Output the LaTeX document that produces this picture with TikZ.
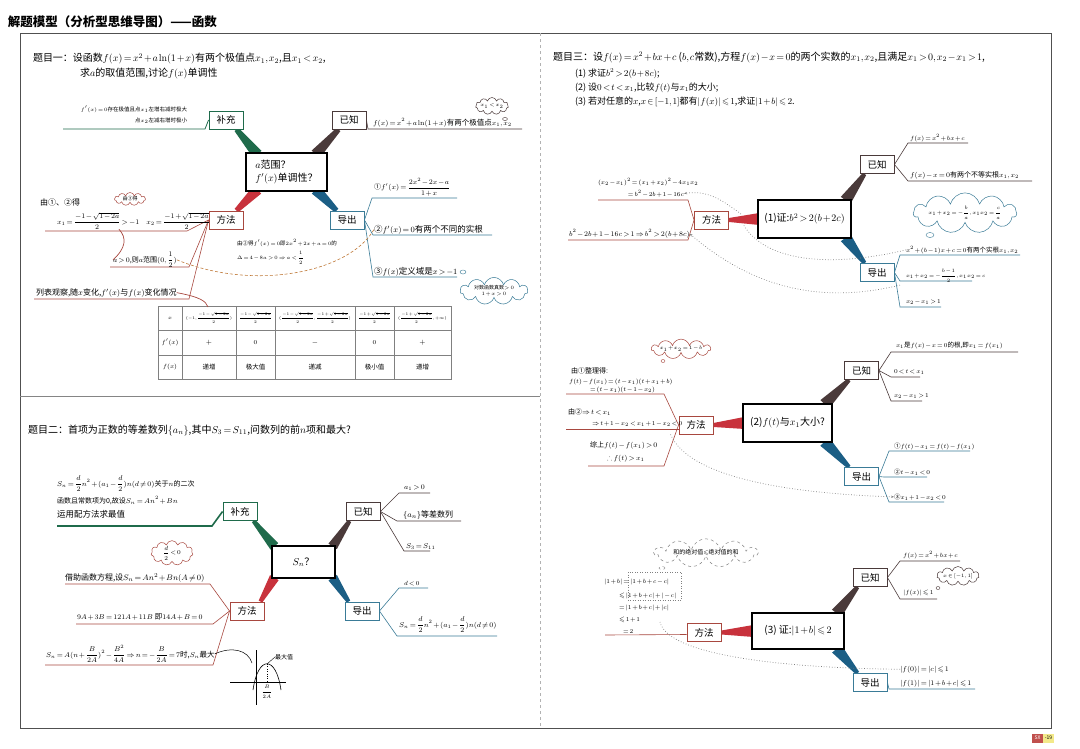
\documentclass[tikz,border=0pt]{standalone}
\usepackage{amsmath,amssymb}
\usepackage[no-math]{fontspec}
\setmainfont{Noto Sans CJK SC}
\usetikzlibrary{calc,shapes.symbols,arrows.meta}
\definecolor{grn}{HTML}{1F6B4B}
\definecolor{dk}{HTML}{4A3A3A}
\definecolor{rdw}{HTML}{C8323C}
\definecolor{rdl}{HTML}{A8483F}
\definecolor{blw}{HTML}{1B5E85}
\definecolor{bll}{HTML}{3A7B97}
\definecolor{frm}{HTML}{505050}
\definecolor{orn}{HTML}{C07A3A}
\definecolor{pnr}{HTML}{C0504D}
\definecolor{pny}{HTML}{F3E98A}
\pgfdeclarelayer{back}
\pgfdeclarelayer{bg}
\pgfsetlayers{back,bg,main}
\newcommand\mytaper[5]{%
  \fill[#1] let \p1=(#2), \p2=(#3), \n1={atan2(\y2-\y1,\x2-\x1)} in
    ($(\p1)+(\n1+90:#4)$) -- ($(\p2)+(\n1+90:#5)$) -- ($(\p2)+(\n1-90:#5)$) -- ($(\p1)+(\n1-90:#4)$) -- cycle;}
\newcommand\tcell[1]{\scalebox{0.8}{#1}}
\tikzset{
  fz/.style={font=\fontsize{#1}{#1}\selectfont},
  tx/.style={inner sep=0pt, outer sep=0pt},
  bx/.style={draw, line width=0.9pt, fill=white, minimum width=34pt, minimum height=18pt, inner sep=1pt, fz=9.5},
  bxg/.style={bx, draw=grn},
  bxk/.style={bx, draw=dk},
  bxr/.style={bx, draw=rdl},
  bxb/.style={bx, draw=bll},
  cbox/.style={draw=black, line width=1.3pt, fill=white, inner sep=2pt, fz=10},
  lg/.style={grn, line width=0.8pt},
  lk/.style={dk, line width=0.6pt},
  lr/.style={rdl, line width=0.6pt},
  lb/.style={bll, line width=0.6pt},
  dots/.style={gray, dotted, line width=0.7pt},
  cld/.style={cloud, cloud puffs=11, cloud ignores aspect, draw, line width=0.5pt, inner sep=0pt, fill=white},
  tl/.style={gray, line width=0.5pt},
}
\begin{document}
\thickmuskip=2.5mu plus 1mu
\medmuskip=1.5mu plus 1mu
\thinmuskip=1.5mu
\begin{tikzpicture}[x=1pt,y=-1pt]
\begin{pgfonlayer}{back}
\fill[white] (0,0) rectangle (1080,748);
\end{pgfonlayer}
\useasboundingbox (0,0) rectangle (1080,748);

% frame
\draw[frm, line width=0.9pt] (20,33) -- (1051,33);
\draw[frm, line width=0.8pt] (20,33) -- (20,728) -- (1051,728) -- (1051,33);
\draw[gray!60, dashed, line width=0.5pt] (540,33) -- (540,728);
\draw[frm!70, line width=0.6pt] (20,396) -- (540,396);

\node[tx, anchor=west, font=\fontsize{12.5}{13}\selectfont\bfseries] (ttl) at (8,22) {解题模型（分析型思维导图）——函数};

% ================= Q1 =================
\node[tx, anchor=west, fz=10] (q1a) at (33,59) {题目一：设函数$f(x)=x^2+a\ln(1+x)$有两个极值点$x_1,x_2$,且$x_1<x_2$,};
\node[tx, anchor=west, fz=10] (q1b) at (80,74) {求$a$的取值范围,讨论$f(x)$单调性};

\node[cbox, minimum width=81pt, minimum height=38pt, align=left] (c1) at (286.5,172) {$a$范围？\\[3pt]$f'(x)$单调性？};
\node[bxg] (b1) at (226,120) {补充};
\node[bxk] (k1) at (349,120) {已知};
\node[bxr] (m1) at (226,220) {方法};
\node[bxb] (d1) at (347,220) {导出};

\node[tx, anchor=base east, fz=5.5] (s1a) at (187,111) {$f'(x)=0$存在极值且点$x_1$左增右减时极大};
\node[tx, anchor=base east, fz=5.5] (s1b) at (187,122) {点$x_2$左减右增时极小};
\draw[lg] (b1.west) -- (205,129) -- (63,129);

\node[tx, anchor=base west, fz=7.5] (k1t) at (373,125) {$f(x)=x^2+a\ln(1+x)$有两个极值点$x_1,x_2$};
\draw[lk] (k1.east) -- (368,129) -- (522,129);
\node[cld, draw=dk, minimum width=32pt, minimum height=17pt, fz=4.5] (k1c) at (492,106) {$x_1<x_2$};
\draw[dk, line width=0.4pt] (505,119) ellipse (2.5pt and 1.5pt);

\draw[lb] (d1.east) -- (372,198) -- (457,198);
\draw[lb] (d1.east) -- (373,235) -- (492,235);
\draw[lb] (d1.east) -- (373,277) -- (457,277);
\node[tx, anchor=south west, fz=7] (d1a) at (374,196) {①$f'(x)=\dfrac{2x^2-2x-a}{1+x}$};
\node[tx, anchor=base west, fz=8.5] (d1b) at (374,232) {②$f'(x)=0$有两个不同的实根};
\node[tx, anchor=base west, fz=8.5] (d1c) at (374,274) {③$f(x)$定义域是$x>-1$};
\node[cld, draw=bll, minimum width=68pt, minimum height=22pt, fz=5, align=center] (d1cl) at (494,291) {对数函数真数$>0$\\[1pt]$1+x>0$};
\draw[bll, line width=0.4pt] (463,272) ellipse (3pt and 2pt);

\draw[lr] (m1.west) -- (187,231) -- (45,231);
\draw[lr] (m1.west) -- (189,267) -- (110,267);
\draw[lr] (m1.west) -- (189,299) -- (34,299);
\node[tx, anchor=base west, fz=8] (m1a) at (40,205) {由①、②得};
\node[tx, anchor=base west, fz=7] (m1b) at (57,224) {$x_1=\dfrac{-1-\sqrt{1-2a}}{2}>-1\quad x_2=\dfrac{-1+\sqrt{1-2a}}{2}$};
\node[cld, draw=rdl, minimum width=31pt, minimum height=13pt, fz=5] (m1cl) at (130,199) {由③得};
\node[tx, anchor=base west, fz=7] (m1c) at (113,262) {$a>0$,则$a$范围$(0,\dfrac{1}{2})$};
\draw[rdl, line width=0.7pt] ($(m1b.south west)+(62,0)$) .. controls (127,238) and (126,248) .. (m1c.west);
\node[tx, anchor=base west, fz=8] (m1d) at (36,295) {列表观察,随$x$变化,$f'(x)$与$f(x)$变化情况};
\draw[orn, densely dashed, line width=0.6pt] (m1c.east) .. controls (255,292) and (350,272) .. (d1b.west);
\node[tx, anchor=base west, fz=5.5] (n1a) at (237,245) {由②得$f'(x)=0$即$2x^2+2x+a=0$的};
\node[tx, anchor=base west, fz=5.5] (n1b) at (237,259) {$\Delta=4-8a>0\Rightarrow a<\dfrac{1}{2}$};

% table
\draw[tl] (158,306) rectangle (451,379);
\draw[tl] (158,330) -- (451,330);
\draw[tl] (158,355) -- (451,355);
\foreach \xx in {182,236,275,355,394} \draw[tl] (\xx,306) -- (\xx,379);
\node[tx, fz=5.5] (t11) at (170,318) {$x$};
\node[tx, fz=5] (t12) at (209,318) {\tcell{$(-1,\dfrac{-1-\sqrt{1-2a}}{2})$}};
\node[tx, fz=5] (t13) at (255.5,318) {\tcell{$\dfrac{-1-\sqrt{1-2a}}{2}$}};
\node[tx, fz=5] (t14) at (315,318) {\tcell{$(\dfrac{-1-\sqrt{1-2a}}{2},\dfrac{-1+\sqrt{1-2a}}{2})$}};
\node[tx, fz=5] (t15) at (374.5,318) {\tcell{$\dfrac{-1+\sqrt{1-2a}}{2}$}};
\node[tx, fz=5] (t16) at (422.5,318) {\tcell{$(\dfrac{-1+\sqrt{1-2a}}{2},+\infty)$}};
\node[tx, fz=6] (t21) at (170,342.5) {$f'(x)$};
\node[tx, fz=7] (t22) at (209,342.5) {$+$};
\node[tx, fz=6] (t23) at (255.5,342.5) {$0$};
\node[tx, fz=7] (t24) at (315,342.5) {$-$};
\node[tx, fz=6] (t25) at (374.5,342.5) {$0$};
\node[tx, fz=7] (t26) at (422.5,342.5) {$+$};
\node[tx, fz=6] (t31) at (170,367) {$f(x)$};
\node[tx, fz=6.5] (t32) at (209,367) {递增};
\node[tx, fz=6.5] (t33) at (255.5,367) {极大值};
\node[tx, fz=6.5] (t34) at (315,367) {递减};
\node[tx, fz=6.5] (t35) at (374.5,367) {极小值};
\node[tx, fz=6.5] (t36) at (422.5,367) {递增};
\draw[rdl, line width=0.7pt] (m1d.east) .. controls (200,297) and (206,301) .. (208,307);

% ================= Q2 =================
\node[tx, anchor=base west, fz=10] (q2) at (28,433) {题目二：首项为正数的等差数列$\{a_n\}$,其中$S_3=S_{11}$,问数列的前$n$项和最大?};
\node[cbox, minimum width=63pt, minimum height=32pt] (c2) at (303.5,562) {$S_n$？};
\node[bxg] (b2) at (240,511.5) {补充};
\node[bxk] (k2) at (363,511.5) {已知};
\node[bxr] (m2) at (247,611) {方法};
\node[bxb] (d2) at (362,611) {导出};

\node[tx, anchor=base west, fz=7] (s2a) at (57,486) {$S_n=\dfrac{d}{2}n^2+(a_1-\dfrac{d}{2})n(d\neq0)$关于$n$的二次};
\node[tx, anchor=base west, fz=7] (s2b) at (57,503) {函数且常数项为0,故设$S_n=An^2+Bn$};
\node[tx, anchor=base west, fz=8.5] (s2c) at (57,517) {运用配方法求最值};
\draw[grn, line width=1.6pt] (b2.west) -- (212,526) -- (57,526);

\draw[lk] (k2.east) -- (399,493) -- (430,493);
\draw[lk] (k2.east) -- (397,521) -- (461,521);
\draw[lk] (k2.east) -- (404,551) -- (430,551);
\node[tx, anchor=base west, fz=7] (k2a) at (404,489) {$a_1>0$};
\node[tx, anchor=base west, fz=8] (k2b) at (403,517) {$\{a_n\}$等差数列};
\node[tx, anchor=base west, fz=7] (k2c) at (406,548) {$S_3=S_{11}$};

\draw[lb] (d2.east) -- (399,588) -- (428,588);
\draw[lb] (d2.east) -- (397,636) -- (497,636);
\node[tx, anchor=base west, fz=6.5] (d2a) at (404,585) {$d<0$};
\node[tx, anchor=base west, fz=7] (d2b) at (399,627) {$S_n=\dfrac{d}{2}n^2+(a_1-\dfrac{d}{2})n(d\neq0)$};

\draw[lr] (m2.west) -- (210,584) -- (65,584);
\draw[lr] (m2.west) -- (213,624) -- (76,624);
\draw[lr] (m2.west) -- (213,665) -- (45,665);
\node[tx, anchor=base west, fz=8] (m2a) at (65,580) {借助函数方程,设$S_n=An^2+Bn(A\neq0)$};
\node[tx, anchor=base west, fz=7.5] (m2b) at (77,619) {$9A+3B=121A+11B$\ 即$14A+B=0$};
\node[tx, anchor=base west, fz=7.5] (m2c) at (46,657) {$S_n=A(n+\dfrac{B}{2A})^2-\dfrac{B^2}{4A}\Rightarrow n=-\dfrac{B}{2A}=7$时,$S_n$最大};
\node[cld, draw=rdl, minimum width=42pt, minimum height=24pt, fz=6] (m2cl) at (172,553) {$\dfrac{d}{2}<0$};

\coordinate (gpk) at (267,664);
\draw[black, line width=0.5pt] (230,682) -- (286,682);
\draw[black, line width=0.5pt] (256,650) -- (256,705);
\draw[black, line width=0.6pt] (253,690) .. controls (258,655) and (276,655) .. (281,690);
\draw[black, dotted, line width=0.4pt] (gpk) -- (267,682);
\node[tx, anchor=west, fz=6] (gmx) at (275,657) {最大值};
\draw[black, line width=0.4pt] (gpk) -- (gmx.west);
\node[tx, fz=5] (gb) at (267,692) {$\dfrac{B}{2A}$};
\draw[black, line width=0.5pt] (m2c.east) .. controls (232,646) and (248,650) .. (252,663);

% ================= Q3 =================
\node[tx, anchor=base west, fz=10] (q3) at (553,60) {题目三：设$f(x)=x^2+bx+c$ ($b,c$常数),方程$f(x)-x=0$的两个实数的$x_1,x_2$,且满足$x_1>0,x_2-x_1>1$,};
\node[tx, anchor=base west, fz=9] (q3a) at (575,76) {(1) 求证$b^2>2(b+8c)$;};
\node[tx, anchor=base west, fz=9] (q3b) at (575,90) {(2) 设$0<t<x_1$,比较$f(t)$与$x_1$的大小;};
\node[tx, anchor=base west, fz=9] (q3c) at (575,104) {(3) 若对任意的$x$,$x\in[-1,1]$都有$|f(x)|\leqslant1$,求证$|1+b|\leqslant2$.};

% part 1
\node[cbox, minimum width=93pt, minimum height=38pt] (c3) at (804.5,219) {(1)证:$b^2>2(b+2c)$};
\node[bxk] (k3) at (877,164.5) {已知};
\node[bxb] (d3) at (877,272.5) {导出};
\node[bxr] (m3) at (711.5,220) {方法};

\draw[lk] (k3.east) -- (908,143) -- (968,143);
\draw[lk] (k3.east) -- (908,181) -- (1032,181);
\node[tx, anchor=base west, fz=6.5] (k3a) at (910,140) {$f(x)=x^2+bx+c$};
\node[tx, anchor=base west, fz=7] (k3b) at (910,177) {$f(x)-x=0$有两个不等实根$x_1,x_2$};

\draw[lb] (d3.east) -- (900,255) -- (1020,255);
\draw[lb] (d3.east) -- (900,281) -- (972,281);
\draw[lb] (d3.east) -- (900,307) -- (941,307);
\node[tx, anchor=base west, fz=6.5] (d3a) at (906,252) {$x^2+(b-1)x+c=0$有两个实根$x_1,x_2$};
\node[tx, anchor=base west, fz=5.5] (d3b) at (906,277) {$x_1+x_2=-\dfrac{b-1}{2},x_1x_2=c$};
\node[tx, anchor=base west, fz=6.5] (d3c) at (906,303) {$x_2-x_1>1$};
\node[cld, draw=bll, minimum width=90pt, minimum height=36pt, fz=5.5] (d3cl) at (965,213) {$x_1+x_2=-\dfrac{b}{a},x_1x_2=\dfrac{c}{a}$};
\draw[bll, line width=0.4pt] (930,235) ellipse (4pt and 2.5pt);

\draw[lr] (m3.west) -- (688,200) -- (598,200);
\draw[lr] (m3.west) -- (688,240) -- (568,240);
\node[tx, anchor=base west, fz=6.5] (m3a) at (598,184) {$(x_2-x_1)^2=(x_1+x_2)^2-4x_1x_2$};
\node[tx, anchor=base east, fz=6.5] (m3b) at (684,196) {$=b^2-2b+1-16c$};
\node[tx, anchor=base west, fz=7] (m3c) at (569,236) {$b^2-2b+1-16c>1\Rightarrow b^2>2(b+8c)$};
\draw[dots, -{Stealth[length=3pt]}] ($(m3.east)+(12,-6)$) .. controls (722,200) and (708,190) .. (m3b.east);
\draw[dots] (d3a.west) .. controls (830,268) and (765,262) .. ($(m3.east)+(14,4)$);
\draw[dots, -{Stealth[length=3pt]}] ($(d3b.south west)+(-6,3)$) .. controls (830,302) and (760,294) .. (m3c.east);

% part 2
\node[cbox, minimum width=89pt, minimum height=38pt] (c4) at (787.5,423) {(2)$f(t)$与$x_1$大小?};
\node[bxk] (k4) at (861.5,370.5) {已知};
\node[bxb] (d4) at (861.5,476.5) {导出};
\node[bxr] (m4) at (696,425) {方法};

\draw[lk] (k4.east) -- (891,352) -- (1018,352);
\draw[lk] (k4.east) -- (891,377) -- (920,377);
\draw[lk] (k4.east) -- (891,401) -- (922,401);
\node[tx, anchor=base west, fz=6.5] (k4a) at (896,347) {$x_1$是$f(x)-x=0$的根,即$x_1=f(x_1)$};
\node[tx, anchor=base west, fz=6] (k4b) at (894,373) {$0<t<x_1$};
\node[tx, anchor=base west, fz=6] (k4c) at (894,397) {$x_2-x_1>1$};

\draw[lb] (d4.east) -- (889,451) -- (970,451);
\draw[lb] (d4.east) -- (884,477) -- (927,477);
\draw[lb] (d4.east) -- (889,502) -- (944,502);
\node[tx, anchor=base west, fz=6.5] (d4a) at (894,448) {①$f(t)-x_1=f(t)-f(x_1)$};
\node[tx, anchor=base west, fz=6.5] (d4b) at (894,474) {②$t-x_1<0$};
\node[tx, anchor=base west, fz=6.5] (d4c) at (894,499) {③$x_1+1-x_2<0$};

\node[cld, draw=rdl, minimum width=44pt, minimum height=17pt, fz=4.5] (m4cl) at (681,349) {$x_1+x_2=1-b$};
\draw[rdl, line width=0.4pt] (663,361) ellipse (2pt and 1.5pt);
\draw[lr] (m4.west) -- (664,394) -- (566,394);
\draw[lr] ($(m4.west)+(0,4)$) -- (566,429);
\draw[lr] (m4.west) -- (664,466) -- (588,466);
\node[tx, anchor=base west, fz=7] (m4a) at (571,373) {由①整理得:};
\node[tx, anchor=base west, fz=6] (m4b) at (569,383) {$f(t)-f(x_1)=(t-x_1)(t+x_1+b)$};
\node[tx, anchor=base east, fz=6] (m4c) at (655,391.5) {$=(t-x_1)(t-1-x_2)$};
\node[tx, anchor=base west, fz=7] (m4d) at (568,414) {由②$\Rightarrow t<x_1$};
\node[tx, anchor=base west, fz=6] (m4e) at (592,425) {$\Rightarrow t+1-x_2<x_1+1-x_2<0$};
\node[tx, anchor=base west, fz=7] (m4f) at (590,447) {综上$f(t)-f(x_1)>0$};
\node[tx, anchor=base west, fz=7] (m4g) at (607,460) {$\therefore f(t)>x_1$};
\draw[dots, -{Stealth[length=3pt]}] ($(m4.south west)+(-8,0)$) .. controls (690,480) and (800,494) .. (d4c.west);

% part 3
\node[cbox, minimum width=92pt, minimum height=36pt] (c5) at (798,631) {(3) 证:$|1+b|\leqslant2$};
\node[bxk] (k5) at (870,577.5) {已知};
\node[bxb] (d5) at (870,682.5) {导出};
\node[bxr] (m5) at (704,632.5) {方法};

\draw[lk] (k5.east) -- (900,561) -- (960,561);
\draw[lk] (k5.east) -- (900,599) -- (937,599);
\node[tx, anchor=base west, fz=6.5] (k5a) at (903,557) {$f(x)=x^2+bx+c$};
\node[tx, anchor=base west, fz=6.5] (k5b) at (903,594) {$|f(x)|\leqslant1$};
\node[cld, draw=dk, minimum width=40pt, minimum height=19pt, fz=5] (k5cl) at (958,576) {$x\in[-1,1]$};
\draw[dk, line width=0.4pt] (938,588) ellipse (2pt and 1.5pt);

\draw[lb] (d5.east) -- (889,689) -- (975,689);
\node[tx, anchor=base west, fz=7] (d5a) at (900,671) {$|f(0)|=|c|\leqslant1$};
\node[tx, anchor=base west, fz=7] (d5b) at (900,685) {$|f(1)|=|1+b+c|\leqslant1$};

\draw[lr] ($(m5.west)+(0,2)$) -- (605,635);
\node[tx, anchor=base west, fz=6.5] (m5a) at (604,583) {$|1+b|=|1+b+c-c|$};
\node[tx, anchor=base west, fz=6.5] (m5b) at (619,597) {$\leqslant|1+b+c|+|-c|$};
\node[tx, anchor=base west, fz=6.5] (m5c) at (619,609) {$=|1+b+c|+|c|$};
\node[tx, anchor=base west, fz=6.5] (m5d) at (619,621) {$\leqslant1+1$};
\node[tx, anchor=base west, fz=6.5] (m5e) at (623,633) {$=2$};
\draw[gray, dotted, line width=0.5pt] (628,572) rectangle (681,600);
\node[cld, draw=gray, dashed, minimum width=103pt, minimum height=20pt, fz=6] (m5cl) at (706,553) {和的绝对值$\leqslant$绝对值的和};
\draw[gray, dashed, line width=0.4pt] (662,568) ellipse (3pt and 1.5pt);
\draw[dots] (d5a.west) .. controls (780,668) and (668,655) .. (660,622);

% page number
\node[tx, fill=pnr, text=white, minimum width=11pt, minimum height=9pt, fz=5, anchor=east] (pn1) at (1043,738) {SX};
\node[tx, fill=pny, minimum width=11pt, minimum height=9pt, fz=5, anchor=west] (pn2) at (pn1.east) {-19};

% wedges
\begin{pgfonlayer}{bg}
\mytaper{grn}{$(b1.south east)+(-7,0)$}{$(c1.north west)+(12,2)$}{2.5pt}{5.5pt}
\mytaper{dk}{$(k1.south west)+(7,0)$}{$(c1.north east)+(-12,2)$}{2.5pt}{5.5pt}
\mytaper{rdw}{$(m1.north east)+(-7,0)$}{$(c1.south west)+(12,-2)$}{2.5pt}{5.5pt}
\mytaper{blw}{$(d1.north west)+(7,0)$}{$(c1.south east)+(-12,-2)$}{2.5pt}{5.5pt}
\mytaper{grn}{$(b2.south east)+(-4,0)$}{$(c2.north west)+(3,1)$}{2pt}{5pt}
\mytaper{dk}{$(k2.south west)+(4,0)$}{$(c2.north east)+(-3,1)$}{2pt}{5pt}
\mytaper{rdw}{$(m2.north east)+(-4,0)$}{$(c2.south west)+(3,-1)$}{2pt}{5pt}
\mytaper{blw}{$(d2.north west)+(4,0)$}{$(c2.south east)+(-3,-1)$}{2pt}{5pt}
\mytaper{dk}{$(k3.south west)+(5,0)$}{$(c3.north east)+(-6,1)$}{2pt}{6pt}
\mytaper{blw}{$(d3.north west)+(5,0)$}{$(c3.south east)+(-6,-1)$}{2pt}{6pt}
\mytaper{rdw}{m3.east}{$(c3.west)+(2,0)$}{2pt}{6pt}
\mytaper{rdw}{m4.east}{$(c4.west)+(2,0)$}{2pt}{6pt}
\mytaper{dk}{$(k4.south west)+(5,0)$}{$(c4.north east)+(-8,1)$}{2pt}{6pt}
\mytaper{blw}{$(d4.north west)+(5,0)$}{$(c4.south east)+(-8,-1)$}{2pt}{6pt}
\mytaper{rdw}{m5.east}{$(c5.west)+(2,0)$}{2pt}{6pt}
\mytaper{dk}{$(k5.south west)+(5,0)$}{$(c5.north east)+(-8,1)$}{2pt}{6pt}
\mytaper{blw}{$(d5.north west)+(5,0)$}{$(c5.south east)+(-8,-1)$}{2pt}{6pt}
\end{pgfonlayer}
\end{tikzpicture}
\end{document}
